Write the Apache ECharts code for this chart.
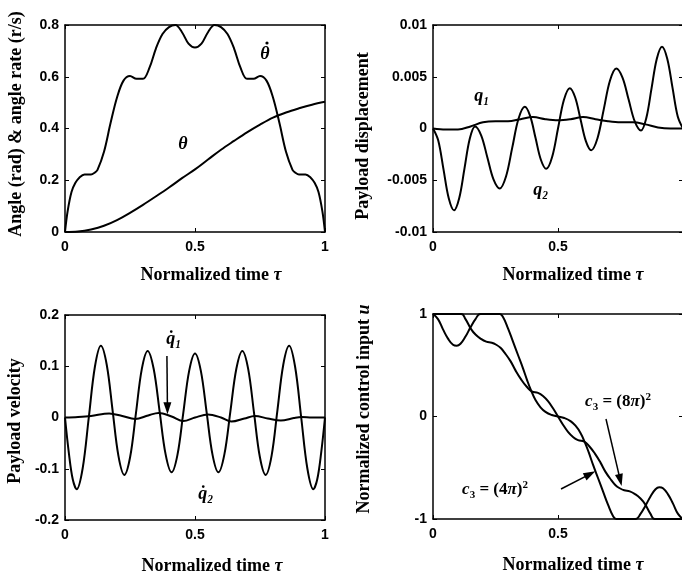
<!DOCTYPE html>
<html>
<head>
<meta charset="utf-8">
<script src="https://cdn.jsdelivr.net/npm/echarts@6/dist/echarts.min.js"></script>
<style>
html,body{margin:0;padding:0;background:#fff;}
#chart{width:682px;height:573px;}
</style>
</head>
<body>
<div id="chart"></div>
<script>
// ---------- Data ----------
// Panel 1: angle and angle rate
var tauThetaDot = [0, 0.01, 0.025, 0.04, 0.055, 0.075, 0.1, 0.115, 0.125, 0.15, 0.175, 0.2, 0.225, 0.25, 0.275, 0.3, 0.325, 0.35, 0.375, 0.4, 0.425, 0.45, 0.475, 0.5, 0.525, 0.55, 0.575, 0.6, 0.625, 0.65, 0.675, 0.7, 0.725, 0.75, 0.775, 0.8, 0.825, 0.85, 0.875, 0.885, 0.9, 0.925, 0.945, 0.96, 0.975, 0.99, 1];
var thetaDot = [0, 0.08, 0.155, 0.19, 0.21, 0.222, 0.222, 0.23, 0.24, 0.31, 0.42, 0.52, 0.585, 0.603, 0.592, 0.592, 0.635, 0.71, 0.765, 0.792, 0.8, 0.772, 0.728, 0.713, 0.728, 0.772, 0.8, 0.792, 0.765, 0.71, 0.635, 0.592, 0.592, 0.603, 0.585, 0.52, 0.42, 0.31, 0.24, 0.23, 0.222, 0.222, 0.21, 0.19, 0.155, 0.08, 0];
var tauTheta = [0, 0.05, 0.1, 0.15, 0.2, 0.25, 0.3, 0.35, 0.4, 0.45, 0.5, 0.55, 0.6, 0.65, 0.7, 0.75, 0.8, 0.85, 0.9, 0.95, 1];
var theta = [0, 0.002, 0.01, 0.024, 0.046, 0.074, 0.105, 0.138, 0.172, 0.208, 0.242, 0.28, 0.318, 0.352, 0.385, 0.415, 0.442, 0.462, 0.478, 0.492, 0.503];

// Panel 2: payload displacement
var tauQ1 = [0, 0.05, 0.1, 0.15, 0.2, 0.25, 0.3, 0.35, 0.4, 0.45, 0.5, 0.55, 0.6, 0.65, 0.7, 0.75, 0.8, 0.85, 0.9, 0.95, 1];
var q1 = [0, -0.0001, -0.0001, 0.0002, 0.0006, 0.0007, 0.0007, 0.0009, 0.0011, 0.0009, 0.0008, 0.0009, 0.0011, 0.0009, 0.0007, 0.0006, 0.0006, 0.0004, 0.0001, 0, 0];
var tauQ2 = [0, 0.021, 0.042, 0.063, 0.084, 0.105, 0.126, 0.147, 0.168, 0.193, 0.2175, 0.242, 0.267, 0.292, 0.317, 0.342, 0.367, 0.3885, 0.41, 0.4315, 0.453, 0.4765, 0.5, 0.5235, 0.547, 0.5685, 0.59, 0.6115, 0.633, 0.658, 0.683, 0.708, 0.733, 0.758, 0.7825, 0.807, 0.832, 0.853, 0.874, 0.895, 0.916, 0.937, 0.958, 0.979, 1];
var q2 = [0, -0.00116, -0.00395, -0.00674, -0.0079, -0.00671, -0.00385, -0.00099, 0.0002, -0.00068, -0.0028, -0.00492, -0.0058, -0.00464, -0.00185, 0.00094, 0.0021, 0.00122, -0.0009, -0.00302, -0.0039, -0.00276, 0, 0.00276, 0.0039, 0.00302, 0.0009, -0.00122, -0.0021, -0.00094, 0.00185, 0.00464, 0.0058, 0.00492, 0.0028, 0.00068, -0.0002, 0.00099, 0.00385, 0.00671, 0.0079, 0.00674, 0.00395, 0.00116, 0];

// Panel 3: payload velocity
var tauQ1Dot = [0, 0.05, 0.1, 0.17, 0.22, 0.27, 0.32, 0.36, 0.41, 0.455, 0.5, 0.55, 0.6, 0.64, 0.69, 0.73, 0.78, 0.83, 0.88, 0.91, 0.95, 1];
var q1Dot = [0, 0.001, 0.003, 0.008, 0.003, -0.003, 0.004, 0.009, 0.002, -0.007, 0, 0.006, 0, -0.008, -0.002, 0.003, -0.002, -0.006, -0.001, 0.001, 0, 0];
var tauQ2Dot = [0, 0.015, 0.03, 0.045, 0.068, 0.0915, 0.115, 0.138, 0.1605, 0.183, 0.2055, 0.228, 0.2505, 0.273, 0.2955, 0.318, 0.341, 0.364, 0.387, 0.41, 0.4325, 0.455, 0.4775, 0.5, 0.5225, 0.545, 0.5675, 0.59, 0.613, 0.636, 0.659, 0.682, 0.7045, 0.727, 0.7495, 0.772, 0.7945, 0.817, 0.8395, 0.862, 0.885, 0.9085, 0.932, 0.955, 0.97, 0.985, 1];
var q2Dot = [0, -0.07, -0.121, -0.14, -0.099, 0, 0.099, 0.14, 0.103, 0.014, -0.075, -0.112, -0.077, 0.009, 0.095, 0.13, 0.095, 0.0115, -0.072, -0.107, -0.073, 0.009, 0.091, 0.125, 0.091, 0.009, -0.073, -0.107, -0.072, 0.0115, 0.095, 0.13, 0.095, 0.009, -0.077, -0.112, -0.075, 0.014, 0.103, 0.14, 0.099, 0, -0.099, -0.14, -0.121, -0.07, 0];

// Panel 4: normalized control input
var tauU4 = [0, 0.02, 0.04, 0.06, 0.08, 0.095, 0.11, 0.13, 0.15, 0.17, 0.19, 0.267, 0.28, 0.3, 0.32, 0.34, 0.36, 0.377, 0.393, 0.41, 0.43, 0.45, 0.475, 0.5, 0.525, 0.55, 0.57, 0.59, 0.607, 0.623, 0.64, 0.66, 0.68, 0.7, 0.72, 0.733, 0.81, 0.83, 0.85, 0.87, 0.89, 0.905, 0.92, 0.94, 0.96, 0.98, 1];
var u4 = [1, 0.95, 0.85, 0.76, 0.70, 0.69, 0.71, 0.78, 0.87, 0.95, 1, 1, 0.97, 0.86, 0.73, 0.6, 0.47, 0.35, 0.25, 0.16, 0.09, 0.045, 0.015, 0, -0.015, -0.045, -0.09, -0.16, -0.25, -0.35, -0.47, -0.6, -0.73, -0.86, -0.97, -1, -1, -0.95, -0.87, -0.78, -0.71, -0.69, -0.70, -0.76, -0.85, -0.95, -1];
var tauU8 = [0, 0.113, 0.13, 0.153, 0.17, 0.19, 0.213, 0.235, 0.253, 0.27, 0.287, 0.31, 0.33, 0.353, 0.375, 0.395, 0.42, 0.44, 0.46, 0.48, 0.5, 0.52, 0.54, 0.56, 0.58, 0.605, 0.625, 0.647, 0.67, 0.69, 0.713, 0.73, 0.747, 0.765, 0.787, 0.81, 0.83, 0.847, 0.87, 0.887, 1];
var u8 = [1, 1, 0.95, 0.85, 0.80, 0.76, 0.73, 0.72, 0.70, 0.67, 0.62, 0.54, 0.45, 0.36, 0.29, 0.245, 0.23, 0.2, 0.15, 0.08, 0, -0.08, -0.15, -0.2, -0.23, -0.245, -0.29, -0.36, -0.45, -0.54, -0.62, -0.67, -0.70, -0.72, -0.73, -0.76, -0.80, -0.85, -0.95, -1, -1];

// Tick settings
var xTicks = {min: 0, max: 1, interval: 0.5};
var yTicks = [
  {min: 0, max: 0.8, interval: 0.2},
  {min: -0.01, max: 0.01, interval: 0.005},
  {min: -0.2, max: 0.2, interval: 0.1},
  {min: -1, max: 1, interval: 1}
];

// ---------- Chart ----------
function pairs(xs, ys) { return xs.map(function (x, i) { return [x, ys[i]]; }); }

var grids = [
  {left: 65, top: 25, width: 260, height: 207},
  {left: 433, top: 25, width: 250, height: 207},
  {left: 65, top: 315, width: 260, height: 205},
  {left: 433, top: 314, width: 250, height: 205}
];
var BLACK = '#000';
var tickFont = {color: BLACK, fontFamily: 'Liberation Sans, Arial, sans-serif', fontWeight: 'bold', fontSize: 14};

var xAxes = [], yAxes = [];
grids.forEach(function (g, i) {
  var rightPanel = (i === 1 || i === 3);
  var axLine = {show: true, onZero: false, lineStyle: {color: BLACK, width: 1.5}};
  var axTick = {show: true, inside: true, length: 4, lineStyle: {color: BLACK, width: 1}};
  xAxes.push({
    type: 'value', gridIndex: i, position: 'bottom', min: xTicks.min, max: xTicks.max, interval: xTicks.interval,
    axisLine: axLine, axisTick: axTick, splitLine: {show: false},
    axisLabel: Object.assign({margin: 8, showMaxLabel: !rightPanel}, tickFont)
  });
  xAxes.push({
    type: 'value', gridIndex: i, position: 'top', min: xTicks.min, max: xTicks.max, interval: xTicks.interval,
    axisLine: axLine, axisTick: axTick, splitLine: {show: false}, axisLabel: {show: false}
  });
  var yt = yTicks[i];
  yAxes.push({
    type: 'value', gridIndex: i, position: 'left', min: yt.min, max: yt.max, interval: yt.interval,
    axisLine: axLine, axisTick: axTick, splitLine: {show: false},
    axisLabel: Object.assign({margin: 6}, tickFont)
  });
  yAxes.push({
    type: 'value', gridIndex: i, position: 'right', min: yt.min, max: yt.max, interval: yt.interval,
    axisLine: axLine, axisTick: axTick, splitLine: {show: false}, axisLabel: {show: false}
  });
});

function lineSeries(name, panel, data, extra) {
  return Object.assign({
    name: name, type: 'line', xAxisIndex: panel * 2, yAxisIndex: panel * 2,
    data: data, showSymbol: false, symbol: 'none', smooth: 0.35,
    lineStyle: {color: BLACK, width: 2}, itemStyle: {color: BLACK}, clip: true, silent: true
  }, extra || {});
}

function arrow(p0, p1) {
  return {
    silent: true, symbol: ['none', 'triangle'], symbolSize: [8, 12],
    lineStyle: {color: BLACK, width: 1.5, type: 'solid'},
    itemStyle: {color: BLACK},
    label: {show: false}, emphasis: {disabled: true},
    data: [[{coord: p0}, {coord: p1}]]
  };
}

var serif = 'Liberation Serif, DejaVu Serif, serif';
function titleText(x, y, rot, parts) {
  return {
    type: 'text', x: x, y: y, rotation: rot, silent: true,
    style: {
      text: parts, align: 'center', verticalAlign: 'middle', fill: BLACK,
      font: 'bold 18px ' + serif,
      rich: {
        n: {font: 'bold 18px ' + serif, fill: BLACK},
        i: {font: 'italic bold 18px ' + serif, fill: BLACK}
      }
    }
  };
}
function labelText(x, y, txt, size) {
  return {
    type: 'text', x: x, y: y, silent: true,
    style: {text: txt, align: 'center', verticalAlign: 'middle', fill: BLACK, font: 'italic bold ' + (size || 18) + 'px ' + serif}
  };
}
function dot(x, y) {
  return {type: 'circle', shape: {cx: x, cy: y, r: 1.6}, style: {fill: BLACK}, silent: true};
}
function eqText(x, y, num) {
  return {
    type: 'text', x: x, y: y, silent: true,
    style: {
      text: '{i|c}{s|3}{n| = (' + num + '}{i|\u03c0}{n|)}{p|2}', align: 'center', verticalAlign: 'middle', fill: BLACK,
      rich: {
        n: {font: 'bold 17px ' + serif, fill: BLACK},
        i: {font: 'italic bold 17px ' + serif, fill: BLACK},
        s: {font: 'bold 11px ' + serif, fill: BLACK, padding: [10, 0, 0, 0]},
        p: {font: 'bold 11px ' + serif, fill: BLACK, padding: [0, 0, 10, 0]}
      }
    }
  };
}

var option = {
  animation: false,
  backgroundColor: '#fff',
  grid: grids.map(function (g) { return Object.assign({containLabel: false, outerBoundsMode: 'none'}, g); }),
  xAxis: xAxes,
  yAxis: yAxes,
  series: [
    lineSeries('theta_dot', 0, pairs(tauThetaDot, thetaDot)),
    lineSeries('theta', 0, pairs(tauTheta, theta)),
    lineSeries('q1', 1, pairs(tauQ1, q1)),
    lineSeries('q2', 1, pairs(tauQ2, q2)),
    lineSeries('q1_dot', 2, pairs(tauQ1Dot, q1Dot), {markLine: arrow([0.392, 0.12], [0.394, 0.018])}),
    lineSeries('q2_dot', 2, pairs(tauQ2Dot, q2Dot)),
    lineSeries('c3=(4pi)^2', 3, pairs(tauU4, u4), {smooth: 0.45, markLine: arrow([0.512, -0.707], [0.628, -0.562])}),
    lineSeries('c3=(8pi)^2', 3, pairs(tauU8, u8), {smooth: 0.45, markLine: arrow([0.692, -0.024], [0.749, -0.62])})
  ],
  graphic: [
    titleText(16, 124, Math.PI / 2, '{n|Angle (rad) & angle rate (r/s)}'),
    titleText(363, 136, Math.PI / 2, '{n|Payload displacement}'),
    titleText(15, 421, Math.PI / 2, '{n|Payload velocity}'),
    titleText(364, 409, Math.PI / 2, '{n|Normalized control input }{i|u}'),
    titleText(211, 275, 0, '{n|Normalized time }{i|\u03c4}'),
    titleText(573, 275, 0, '{n|Normalized time }{i|\u03c4}'),
    titleText(212, 566, 0, '{n|Normalized time }{i|\u03c4}'),
    titleText(573, 565, 0, '{n|Normalized time }{i|\u03c4}'),
    labelText(265, 54, '\u03b8'),
    dot(267, 43),
    labelText(183, 144, '\u03b8'),
    labelText(482, 96, 'q\u2081'),
    labelText(541, 190, 'q\u2082'),
    labelText(174, 339, 'q\u0307\u2081'),
    labelText(206, 494, 'q\u0307\u2082'),
    eqText(618, 402, '8'),
    eqText(495, 490, '4')
  ]
};

var chart = echarts.init(document.getElementById('chart'), null, {renderer: 'canvas'});
chart.setOption(option);
</script>
</body>
</html>
